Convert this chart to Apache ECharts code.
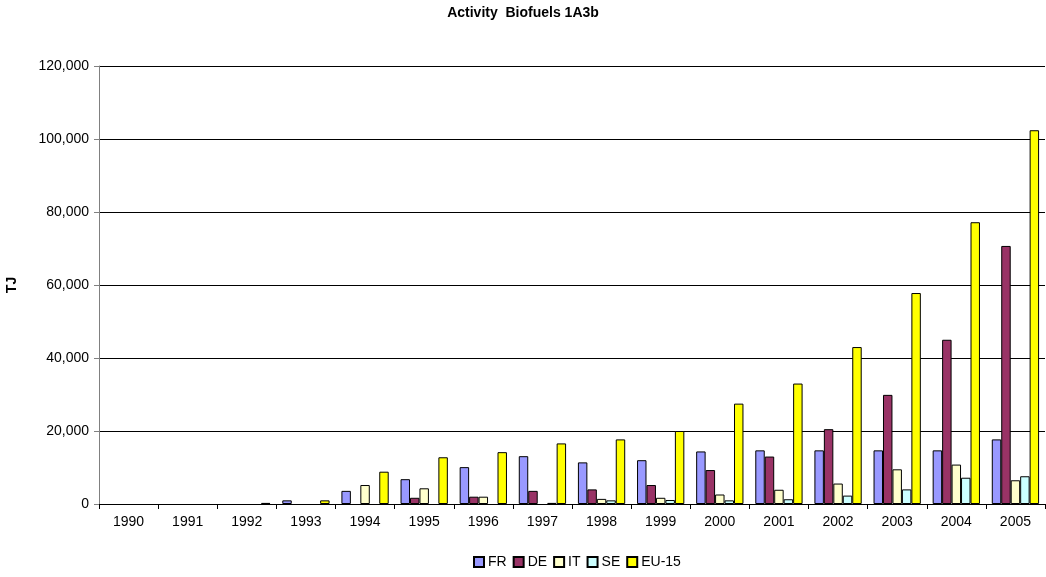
<!DOCTYPE html>
<html><head><meta charset="utf-8">
<script src="https://cdn.jsdelivr.net/npm/echarts@6/dist/echarts.min.js"></script>
<style>html,body{margin:0;padding:0;background:#fff}#c{width:1046px;height:577px}</style>
</head><body><div id="c"></div>
<script>
const years = ['1990','1991','1992','1993','1994','1995','1996','1997','1998','1999','2000','2001','2002','2003','2004','2005'];
const FR   = [0,0,0,1000,3600,6800,10100,13100,11400,12000,14400,14700,14700,14700,14700,17700];
const DE   = [0,0,0,0,0,1700,2000,3600,4000,5200,9300,13000,20500,29900,45000,70700];
const IT   = [0,0,0,0,5200,4300,2000,0,1400,1700,2600,3900,5600,9500,10800,6500];
const SE   = [0,0,0,0,0,0,0,300,1000,1100,1000,1300,2300,4000,7200,7600];
const EU15 = [0,0,300,1000,8850,12800,14200,16600,17700,20000,27500,33000,43000,57800,77200,102400];
const yTicks = [0,20000,40000,60000,80000,100000,120000];

const font = 'Liberation Sans, Arial, sans-serif';
const FS = 14;
function ser(name, data, color){
  // zero values are not drawn in the reference (no outline at the baseline)
  return {name, type:'bar', data:data.map(v => v === 0 ? null : v), barGap:'0%', barCategoryGap:'20%',
    itemStyle:{color, borderColor:'#000', borderWidth:1}};
}
const chart = echarts.init(document.getElementById('c'));
chart.setOption({
  animation:false,
  backgroundColor:'#fff',
  title:{text:'Activity  Biofuels 1A3b', left:'center', top:1,
    textStyle:{fontFamily:font, fontSize:14, fontWeight:'bold', color:'#000'}},
  grid:{left:99, right:1, top:66, bottom:73, containLabel:false, outerBoundsMode:'none'},
  legend:{bottom:3, left:468, itemWidth:10, itemHeight:10, itemGap:6,
    icon:'rect', textStyle:{fontFamily:font, fontSize:FS, color:'#000', padding:[0,0,0,-1]},
    data:['FR','DE','IT','SE','EU-15']},
  xAxis:{type:'category', data:years, boundaryGap:true,
    axisLine:{lineStyle:{color:'#000'}},
    axisTick:{show:true, alignWithLabel:false, length:5, lineStyle:{color:'#000'}},
    axisLabel:{fontFamily:font, fontSize:FS, color:'#000', margin:11}},
  yAxis:{type:'value', min:yTicks[0], max:yTicks[yTicks.length-1], interval:20000,
    name:'TJ', nameLocation:'middle', nameGap:80, nameRotate:90,
    nameTextStyle:{fontFamily:font, fontSize:FS, fontWeight:'bold', color:'#000'},
    axisLine:{show:true, lineStyle:{color:'#808080'}},
    axisTick:{show:true, length:5, lineStyle:{color:'#808080'}},
    splitLine:{lineStyle:{color:'#000', width:1}},
    axisLabel:{fontFamily:font, fontSize:FS, color:'#000', margin:10,
      formatter:v=>v.toLocaleString('en-US')}},
  series:[
    ser('FR', FR, '#9999FF'),
    ser('DE', DE, '#993366'),
    ser('IT', IT, '#FFFFCC'),
    ser('SE', SE, '#CCFFFF'),
    ser('EU-15', EU15, '#FFFF00')
  ]
});
</script></body></html>
